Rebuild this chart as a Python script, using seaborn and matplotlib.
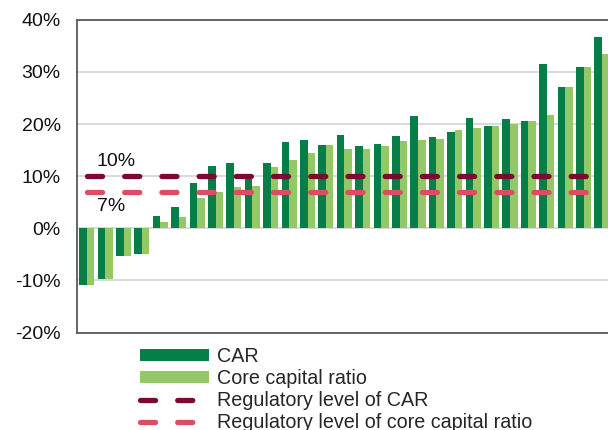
import numpy as np
import pandas as pd
import matplotlib
matplotlib.use("Agg")
import matplotlib.pyplot as plt
import seaborn as sns

# Capital adequacy ratios per bank (%), sorted by CAR
banks = [f"B{i + 1}" for i in range(29)]
car = [-10.9, -9.7, -5.4, -4.9, 2.4, 4.1, 8.7, 12.0, 12.5, 9.9,
       12.6, 16.6, 17.0, 16.0, 17.9, 15.8, 16.2, 17.8, 21.5, 17.6,
       18.5, 21.2, 19.7, 21.0, 20.5, 31.5, 27.2, 30.9, 36.7]
core = [-10.9, -9.7, -5.4, -4.9, 1.3, 2.1, 5.8, 7.0, 7.9, 8.2,
        11.7, 13.1, 14.5, 16.0, 15.3, 15.3, 15.8, 16.8, 16.9, 17.1,
        18.9, 19.3, 19.7, 20.1, 20.5, 21.7, 27.2, 30.9, 33.4]
reg_car = 10
reg_core = 7
y_ticks = [-20, -10, 0, 10, 20, 30, 40]

series_names = ["CAR", "Core capital ratio"]
reg_names = ["Regulatory level of CAR", "Regulatory level of core capital ratio"]

df = pd.DataFrame({
    "bank": banks * 2,
    "value": car + core,
    "series": [series_names[0]] * len(banks) + [series_names[1]] * len(banks),
})

sns.set_style("white")
plt.rcParams["font.family"] = ["Liberation Sans", "DejaVu Sans"]

dark_green = "#077d47"
light_green = "#93c866"
maroon = "#7a0a33"
pink = "#dc4c63"

fig = plt.figure(figsize=(6.08, 4.30), dpi=100)
ax = fig.add_axes([77.5 / 608, 1 - 332.5 / 430, (611.2 - 77.5) / 608, (332.5 - 19.9) / 430])

sns.barplot(data=df, x="bank", y="value", hue="series",
            palette=[dark_green, light_green], width=0.82,
            linewidth=0, saturation=1, ax=ax)

idx = np.arange(len(banks))
for level, color, name in [(reg_car, maroon, reg_names[0]), (reg_core, pink, reg_names[1])]:
    sns.lineplot(x=idx, y=[level] * len(banks), color=color, lw=3.8,
                 linestyle=(0, (2.85, 4.2)), dash_capstyle="round",
                 label=name, ax=ax)

ax.text(0.54, reg_car + 1.1, f"{reg_car}%", ha="left", va="bottom", fontsize=14, color="#111111")
ax.text(0.54, reg_core - 1.2, f"{reg_core}%", ha="left", va="top", fontsize=14, color="#111111")

ax.set_xlim(-0.5, len(banks) - 0.5)
ax.set_ylim(y_ticks[0], y_ticks[-1])
ax.set_yticks(y_ticks)
ax.set_yticklabels([f"{t}%" for t in y_ticks])
ax.set_xticks([])
ax.set_xlabel("")
ax.set_ylabel("")
ax.yaxis.grid(True, color="#d3d3d3", linewidth=1.2)
ax.set_axisbelow(True)
ax.tick_params(axis="y", direction="in", length=4, width=1, color="#595959",
               pad=12, labelsize=14, labelcolor="#111111")
for side in ["left", "top", "bottom", "right"]:
    ax.spines[side].set_color("#595959")
    ax.spines[side].set_linewidth(1.3)

handles, labels = ax.get_legend_handles_labels()
ax.get_legend().remove()
fig.legend(handles, labels, loc="upper left", bbox_to_anchor=(140 / 608, 1 - 347 / 430),
           frameon=False, fontsize=14.2, borderpad=0, borderaxespad=0,
           handlelength=3.5, handleheight=0.55, handletextpad=0.4,
           labelspacing=0.155)

fig.savefig("out.png", dpi=100)
